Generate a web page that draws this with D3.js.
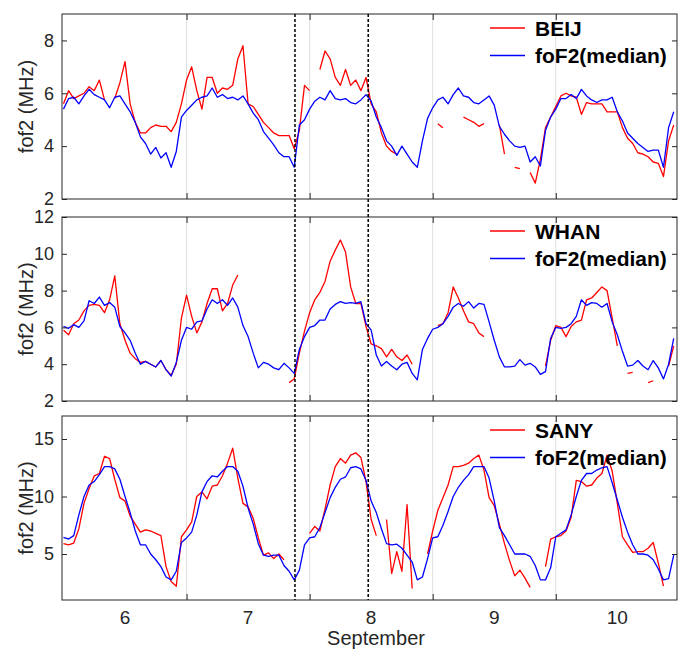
<!DOCTYPE html>
<html><head><meta charset="utf-8">
<script src="https://cdn.jsdelivr.net/npm/d3@7"></script>
<style>
body{margin:0;background:#fff}
svg{display:block}
text{font-family:Arial,"Liberation Sans",Helvetica,sans-serif;fill:#262626}
</style>
</head><body>
<svg id="chart" width="685" height="651"></svg>
<script>
// ---- data ----
const dayLabels = [6, 7, 8, 9, 10];
const dayBoundaries = [6.5, 7.5, 8.5, 9.5];
const eventLines = [7.381, 7.976];
const startDay = 5.5;          // first hourly sample (day of September)
const samplesPerDay = 24;
const xLabel = "September";
const yLabel = "fof2 (MHz)";
const medianLabel = "foF2(median)";

const beijTicks = [2, 4, 6, 8];
const whanTicks = [2, 4, 6, 8, 10, 12];
const sanyTicks = [5, 10, 15];

const beij = [
 5.6,6.1,5.8,5.9,6.0,6.25,6.1,6.5,5.75,null,
 5.8,6.4,7.2,5.6,4.9,4.5,4.5,4.7,4.8,4.75,
 4.75,4.55,4.9,5.6,6.5,7.0,6.1,5.4,6.6,6.6,
 6.0,6.2,6.15,6.3,7.3,7.8,5.6,5.5,5.2,4.9,
 4.7,4.5,4.4,4.4,4.4,3.9,4.6,6.3,6.1,null,
 6.9,7.6,7.3,6.6,6.3,6.9,6.3,6.5,6.1,6.6,
 5.6,5.3,4.5,4.0,3.8,3.7,null,null,null,null,
 null,null,null,4.85,4.7,null,null,null,5.1,5.0,
 4.9,4.75,4.85,null,null,4.8,3.7,null,3.2,3.15,
 null,3.0,2.6,3.5,4.7,5.1,5.5,5.9,6.0,5.9,
 5.85,5.2,5.65,5.6,5.6,5.6,5.3,5.3,5.3,4.7,
 4.3,4.1,3.75,3.7,3.6,3.4,3.35,2.85,4.2,4.8
];
const beijMedian = [
 5.4,5.8,5.85,5.6,5.9,6.15,5.95,5.85,5.75,5.45,
 5.85,5.9,5.6,5.3,4.9,4.35,4.1,3.7,3.95,3.55,
 3.75,3.2,3.8,5.1,5.35,5.55,5.75,5.85,5.9,6.2,
 5.85,5.95,5.8,5.85,5.75,5.9,5.6,5.25,5.0,4.55,
 4.3,4.05,3.75,3.6,3.6,3.2,4.8,5.0,5.4,5.7,
 5.85,5.75,6.1,5.8,5.75,5.8,5.65,5.6,5.75,5.95,
 5.7,5.1,4.7,4.2,4.0,3.65,4.0,3.7,3.4,3.2,
 4.2,5.05,5.45,5.75,5.85,5.6,5.95,6.2,5.9,5.85,
 5.65,5.6,5.75,5.9,5.55,4.75,4.45,4.2,4.0,3.95,
 4.0,3.4,3.6,3.25,4.6,5.1,5.4,5.8,5.8,5.95,
 5.8,6.15,5.9,5.75,5.65,5.75,5.75,5.85,5.3,4.95,
 4.5,4.3,4.1,3.95,3.8,3.85,3.85,3.2,4.7,5.3
];

const whan = [
 5.85,5.6,6.2,6.4,6.9,7.2,7.25,7.2,6.8,7.5,
 8.8,6.2,5.3,4.6,4.3,4.1,4.15,4.0,3.85,4.2,
 3.7,3.4,4.0,6.5,7.75,6.6,5.7,6.3,7.3,8.1,
 8.1,6.9,7.3,8.3,8.85,null,null,null,null,null,
 null,null,null,null,3.0,3.2,4.6,5.8,6.8,7.5,
 7.9,8.5,9.6,10.2,10.75,10.1,8.2,7.3,7.3,6.05,
 5.1,5.0,4.85,4.4,4.8,4.4,4.2,4.5,4.0,null,
 null,null,null,6.1,6.2,6.8,8.2,7.6,6.9,6.3,
 6.2,5.7,5.5,null,null,null,null,null,null,null,
 null,null,null,null,3.9,5.3,6.1,6.0,5.5,6.05,
 6.3,6.4,7.5,7.6,7.9,8.2,8.0,6.5,5.0,null,
 3.5,3.55,null,null,3.0,3.1,null,null,3.9,5.0
];
const whanMedian = [
 6.05,5.95,6.15,6.0,6.35,7.45,7.3,7.65,7.2,7.35,
 7.1,6.05,5.7,5.3,4.6,4.0,4.15,4.0,3.85,4.2,
 3.7,3.35,4.1,5.3,6.0,5.9,6.3,6.35,7.0,7.5,
 7.3,7.5,7.2,7.6,7.1,6.1,5.5,4.6,3.8,4.1,
 4.0,3.8,3.7,4.05,3.8,3.5,4.8,5.5,6.0,6.1,
 6.4,6.4,7.0,7.25,7.4,7.3,7.35,7.3,7.4,6.2,
 5.85,4.5,3.9,4.15,3.9,3.7,4.0,4.1,3.5,3.15,
 4.8,5.4,5.9,6.0,6.2,6.6,7.1,7.3,7.15,7.4,
 7.05,7.3,7.25,6.3,5.3,4.4,3.85,3.85,3.9,4.25,
 3.95,4.05,3.85,3.45,3.6,5.4,6.0,5.95,6.0,6.2,
 6.6,7.5,7.2,7.35,7.3,7.1,7.3,6.3,5.6,4.7,
 3.9,3.95,4.2,3.9,3.7,4.2,3.8,3.2,4.0,5.4
];

const sany = [
 5.9,5.8,5.95,7.2,9.4,10.7,11.8,12.0,13.5,13.3,
 11.5,9.9,9.6,8.3,7.6,6.9,7.1,7.0,6.8,6.6,
 3.9,2.6,2.2,6.5,7.1,7.8,10.0,10.4,9.8,10.9,
 11.0,11.8,12.9,14.2,11.6,9.4,9.1,8.1,6.4,4.9,
 5.1,4.6,5.0,4.5,null,null,null,null,6.8,7.4,
 7.0,8.9,11.0,12.6,13.3,12.9,13.6,13.8,13.4,11.3,
 8.0,6.6,null,8.0,3.3,5.2,3.5,9.3,2.0,null,
 null,5.0,7.0,8.8,9.9,11.0,12.6,12.6,12.7,12.9,
 13.3,13.6,12.3,9.9,9.2,7.6,5.9,4.4,3.1,3.6,
 2.9,2.1,null,null,3.9,6.3,6.5,6.6,7.0,8.2,
 11.4,11.3,10.9,11.0,11.6,12.0,13.6,12.2,9.4,6.5,
 5.8,5.15,5.2,5.2,5.5,6.0,4.2,2.2,null,null
];
const sanyMedian = [
 6.45,6.3,6.6,8.4,10.0,11.0,11.3,11.9,12.6,12.6,
 12.4,11.5,10.0,8.6,7.0,5.8,5.8,5.0,4.5,3.9,
 3.0,2.75,3.5,6.0,6.4,6.9,8.4,10.4,11.3,11.8,
 11.7,12.2,12.6,12.6,12.2,10.9,9.0,7.6,5.9,4.9,
 4.8,4.9,4.9,4.0,3.5,2.75,3.6,5.8,6.4,6.5,
 7.3,8.6,9.9,10.8,11.5,11.7,12.5,12.6,12.4,11.4,
 9.6,8.6,7.2,5.9,5.8,5.85,5.5,4.9,4.3,2.75,
 3.0,4.6,6.4,6.5,7.5,8.7,10.0,10.8,11.4,11.9,
 12.6,12.6,12.6,11.6,9.6,7.3,6.6,5.8,5.0,5.0,
 5.0,4.8,4.0,2.75,2.75,3.8,6.5,6.8,7.1,8.4,
 10.0,11.4,12.0,12.0,12.3,12.5,12.6,11.2,9.7,8.2,
 6.9,5.8,5.0,5.0,4.9,4.5,3.7,2.75,2.85,4.9
];

// ---- layout ----
const plotLeft = 62, plotRight = 677;
const panels = [
  {name: "BEIJ", obs: beij, med: beijMedian, domain: [2, 9],  ticks: beijTicks, top: 14,  bottom: 199},
  {name: "WHAN", obs: whan, med: whanMedian, domain: [2, 12], ticks: whanTicks, top: 217, bottom: 401},
  {name: "SANY", obs: sany, med: sanyMedian, domain: [1, 17], ticks: sanyTicks, top: 416, bottom: 600}
];
const RED = "#ff0000", BLUE = "#0000ff", AX = "#262626";

const svg = d3.select("#chart");
const x = d3.scaleLinear().domain([5.488, 10.485]).range([plotLeft, plotRight]);
const tOf = i => startDay + i / samplesPerDay;
const fmt = d3.format("d");

panels.forEach((p, k) => {
  const y = d3.scaleLinear().domain(p.domain).range([p.bottom, p.top]);
  const g = svg.append("g");
  const clipId = "clip" + k;
  svg.append("clipPath").attr("id", clipId).append("rect")
    .attr("x", plotLeft).attr("y", p.top).attr("width", plotRight - plotLeft).attr("height", p.bottom - p.top);

  // grid
  g.selectAll("line.grid").data(dayBoundaries).join("line")
    .attr("x1", d => x(d)).attr("x2", d => x(d)).attr("y1", p.top).attr("y2", p.bottom)
    .attr("stroke", "#dedede").attr("stroke-width", 1);

  const line = d3.line().defined(d => d != null).x((d, i) => x(tOf(i))).y(d => y(d));
  const lg = g.append("g").attr("clip-path", `url(#${clipId})`);
  lg.append("path").datum(p.obs).attr("d", line).attr("fill", "none")
    .attr("stroke", RED).attr("stroke-width", 1.3).attr("stroke-linejoin", "round");
  lg.append("path").datum(p.med).attr("d", line).attr("fill", "none")
    .attr("stroke", BLUE).attr("stroke-width", 1.3).attr("stroke-linejoin", "round");

  // axes
  const left = g.append("g").attr("transform", `translate(${plotLeft},0)`)
    .call(d3.axisLeft(y).tickValues(p.ticks).tickFormat(fmt).tickSize(-5).tickPadding(8));
  const right = g.append("g").attr("transform", `translate(${plotRight},0)`)
    .call(d3.axisRight(y).tickValues(p.ticks).tickSize(-5).tickFormat(""));
  const bottom = g.append("g").attr("transform", `translate(0,${p.bottom})`)
    .call(d3.axisBottom(x).tickValues(dayBoundaries).tickSize(-6).tickFormat(""));
  const topAx = g.append("g").attr("transform", `translate(0,${p.top})`)
    .call(d3.axisTop(x).tickValues(dayBoundaries).tickSize(-6).tickFormat(""));
  [left, right, bottom, topAx].forEach(a => {
    a.select(".domain").remove();
    a.selectAll(".tick line").attr("stroke", AX);
    a.selectAll(".tick text").attr("font-size", 18).attr("fill", AX)
      .style("font-family", "Arial, 'Liberation Sans', sans-serif");
  });
  g.append("rect").attr("x", plotLeft).attr("y", p.top)
    .attr("width", plotRight - plotLeft).attr("height", p.bottom - p.top)
    .attr("fill", "none").attr("stroke", AX).attr("stroke-width", 1);

  // y label
  g.append("text").attr("transform", `translate(33,${(p.top + p.bottom) / 2}) rotate(-90)`)
    .attr("text-anchor", "middle").attr("font-size", 20).text(yLabel);

  // legend
  const leg = [{c: RED, t: p.name, dy: 14}, {c: BLUE, t: medianLabel, dy: 41.5}];
  leg.forEach(l => {
    g.append("line").attr("x1", 490).attr("x2", 525)
      .attr("y1", p.top + l.dy).attr("y2", p.top + l.dy)
      .attr("stroke", l.c).attr("stroke-width", 1.5);
    g.append("text").attr("x", 535).attr("y", p.top + l.dy)
      .attr("dominant-baseline", "central").attr("font-size", 21)
      .attr("font-weight", "bold").style("fill", "#000").text(l.t);
  });
});

// event lines spanning all panels
svg.selectAll("line.event").data(eventLines).join("line")
  .attr("x1", d => x(d)).attr("x2", d => x(d))
  .attr("y1", panels[0].top).attr("y2", panels[2].bottom)
  .attr("stroke", "#000").attr("stroke-width", 1.5).attr("stroke-dasharray", "3,2");

// day labels + x label
svg.selectAll("text.day").data(dayLabels).join("text")
  .attr("x", d => x(d)).attr("y", 617).attr("text-anchor", "middle")
  .attr("dominant-baseline", "central").attr("font-size", 19).text(d => d);
svg.append("text").attr("x", 376).attr("y", 638).attr("text-anchor", "middle")
  .attr("dominant-baseline", "central").attr("font-size", 20).text(xLabel);
</script>
</body></html>
